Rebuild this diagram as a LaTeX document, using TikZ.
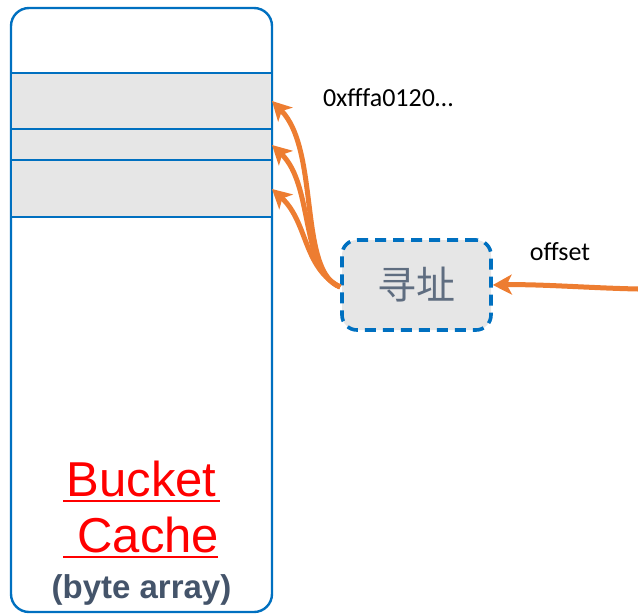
\documentclass[tikz,border=0pt]{standalone}
\usepackage{fontspec}
\setmainfont{Carlito}
\newfontfamily\arialf{Liberation Sans}
\newfontfamily\cjk{Noto Sans CJK SC}
\usetikzlibrary{arrows.meta}
\definecolor{mblue}{HTML}{0070C0}
\definecolor{morange}{HTML}{ED7D31}
\definecolor{mgrey}{HTML}{E6E6E6}
\definecolor{slate}{HTML}{44546A}
\definecolor{cjkgrey}{HTML}{5F6D80}
\begin{document}
\begin{tikzpicture}[x=1pt,y=-1pt,
  outerbox/.style={draw=mblue,line width=2.4pt,fill=white,rounded corners=18pt,minimum width=261pt,minimum height=604pt,inner sep=0pt},
  band/.style={draw=mblue,line width=2.4pt,fill=mgrey,minimum width=261pt,inner sep=0pt},
  addrbox/.style={draw=mblue,line width=3.6pt,dash pattern=on 11pt off 7pt,fill=mgrey,rounded corners=15pt,minimum width=149pt,minimum height=90pt,inner sep=0pt,text=cjkgrey,font=\cjk\fontsize{39}{42}\selectfont},
  oarrow/.style={draw=morange,line width=5pt,-{Stealth[length=19pt,width=20pt,inset=5pt]}},
  lbl/.style={font=\fontsize{26}{30}\selectfont,anchor=base,inner sep=0pt},
  bigred/.style={font=\arialf\fontsize{49}{52}\selectfont,text=red,anchor=base,inner sep=0pt}
]
\useasboundingbox (0,0) rectangle (638,614);
\node[outerbox] (cache) at (141.5,310) {};
\node[band,minimum height=56pt] (b1) at (141.5,101) {};
\node[band,minimum height=31pt] (b2) at (141.5,144.5) {};
\node[band,minimum height=57pt] (b3) at (141.5,188.5) {};
\node[addrbox] (addr) at (416.5,285) {寻址};
\coordinate (t1) at (272,101);
\coordinate (t2) at (272,145);
\coordinate (t3) at (272,189);
\coordinate (src) at (638,289);
\draw[oarrow] ([yshift=-2pt]addr.west) .. controls (298,272) and (320,150) .. (t1);
\draw[oarrow] ([yshift=-2pt]addr.west) .. controls (300,270) and (314,185) .. (t2);
\draw[oarrow] ([yshift=-2pt]addr.west) .. controls (303,268) and (308,222) .. (t3);
\draw[oarrow] (src) .. controls (590,288) and (540,284) .. (addr.east);
\node[lbl] (hex) at (388,106) {0xfffa0120…};
\node[lbl] (off) at (560,260) {offset};
\node[bigred] (bucket) at (141.5,496) {Bucket};
\node[bigred] (cachetxt) at (141.5,552) {\ Cache};
\draw[red,line width=2pt] (63,501) -- (220,501);
\draw[red,line width=2pt] (63,557) -- (218,557);
\node[anchor=base,inner sep=0pt,text=slate,font=\arialf\bfseries\fontsize{33}{36}\selectfont] (ba) at (141.5,598) {(byte array)};
\end{tikzpicture}
\end{document}
